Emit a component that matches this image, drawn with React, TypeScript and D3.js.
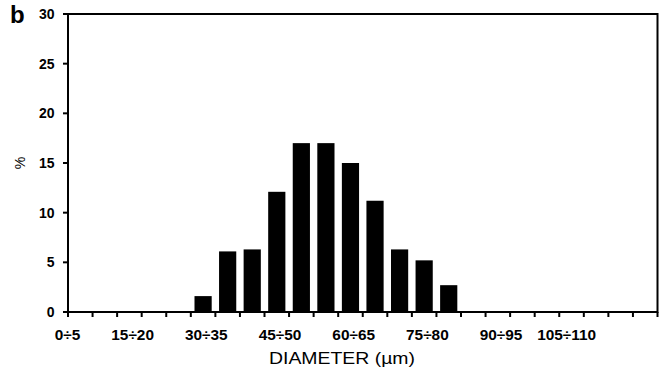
import * as d3 from 'd3';
import React, { useEffect, useRef } from 'react';

// diameter bins (µm), 5 µm wide
const bins = [
  '0÷5', '5÷10', '10÷15', '15÷20', '20÷25', '25÷30', '30÷35', '35÷40',
  '40÷45', '45÷50', '50÷55', '55÷60', '60÷65', '65÷70', '70÷75', '75÷80',
  '80÷85', '85÷90', '90÷95', '95÷100', '100÷105', '105÷110', '110÷115', '115÷120',
];

// percentage per bin
const percent = [
  0, 0, 0, 0, 0, 1.6, 6.1, 6.3,
  12.1, 17.0, 17.0, 15.0, 11.2, 6.3, 5.2, 2.7,
  0, 0, 0, 0, 0, 0, 0, 0,
];

const shownBins = ['0÷5', '15÷20', '30÷35', '45÷50', '60÷65', '75÷80', '90÷95', '105÷110'];
const yTicks = [0, 5, 10, 15, 20, 25, 30];

export default function App() {
  const svgRef = useRef(null);
  const width = 664;
  const height = 374;

  useEffect(() => {
    const svg = d3.select(svgRef.current);
    svg.selectAll('*').remove();

    const margin = { top: 14, right: 6.5, bottom: 62, left: 68 };
    const x0 = margin.left;
    const x1 = width - margin.right;
    const y0 = height - margin.bottom;
    const y1 = margin.top;

    const x = d3.scaleBand().domain(bins).range([x0, x1]).paddingInner(0.3).paddingOuter(0.15);
    const xb = d3.scaleBand().domain(bins).range([x0, x1]);
    const y = d3.scaleLinear().domain([0, 30]).range([y0, y1]);

    const font = 'Liberation Sans, Arial, Helvetica, sans-serif';

    // bars
    svg.append('g')
      .selectAll('rect')
      .data(bins)
      .enter()
      .filter((d, i) => percent[i] > 0)
      .append('rect')
      .attr('x', (d) => x(d))
      .attr('y', (d) => y(percent[bins.indexOf(d)]))
      .attr('width', x.bandwidth())
      .attr('height', (d) => y0 - y(percent[bins.indexOf(d)]))
      .attr('fill', '#000');

    // frame
    svg.append('rect')
      .attr('x', x0)
      .attr('y', y1)
      .attr('width', x1 - x0)
      .attr('height', y0 - y1)
      .attr('fill', 'none')
      .attr('stroke', '#000')
      .attr('stroke-width', 2);

    // x ticks on bin edges
    const edges = bins.map((b) => xb(b)).concat([x1]);
    svg.append('g')
      .selectAll('line')
      .data(edges)
      .enter()
      .append('line')
      .attr('x1', (d) => d)
      .attr('x2', (d) => d)
      .attr('y1', y0)
      .attr('y2', y0 + 5)
      .attr('stroke', '#000')
      .attr('stroke-width', 2);

    // x tick labels, right edge on the bin centre
    svg.append('g')
      .selectAll('text')
      .data(shownBins)
      .enter()
      .append('text')
      .attr('transform', (d) => `translate(${xb(d) + xb.bandwidth() / 2},339.5) scale(1.1,1)`)
      .attr('text-anchor', 'end')
      .attr('font-family', font)
      .attr('font-weight', 'bold')
      .attr('font-size', 14)
      .text((d) => d);

    // y ticks
    const gy = svg.append('g');
    gy.selectAll('line')
      .data(yTicks)
      .enter()
      .append('line')
      .attr('x1', x0 - 5)
      .attr('x2', x0)
      .attr('y1', (d) => y(d))
      .attr('y2', (d) => y(d))
      .attr('stroke', '#000')
      .attr('stroke-width', 2);
    gy.selectAll('text')
      .data(yTicks)
      .enter()
      .append('text')
      .attr('x', 54.5)
      .attr('y', (d) => y(d))
      .attr('dy', '0.36em')
      .attr('text-anchor', 'end')
      .attr('font-family', font)
      .attr('font-weight', 'bold')
      .attr('font-size', 14)
      .text((d) => d);

    // axis titles
    svg.append('text')
      .attr('x', 342)
      .attr('y', 364)
      .attr('text-anchor', 'middle')
      .attr('font-family', font)
      .attr('font-size', 16.5)
      .attr('textLength', 146)
      .attr('lengthAdjust', 'spacingAndGlyphs')
      .text('DIAMETER (µm)');

    svg.append('text')
      .attr('transform', 'translate(24.5,163) rotate(-90)')
      .attr('text-anchor', 'middle')
      .attr('font-family', font)
      .attr('font-size', 14)
      .text('%');

    // panel letter
    svg.append('text')
      .attr('x', 10)
      .attr('y', 22.5)
      .attr('font-family', font)
      .attr('font-weight', 'bold')
      .attr('font-size', 24)
      .text('b');
  }, []);

  return (
    <svg
      ref={svgRef}
      width={width}
      height={height}
      style={{ position: 'absolute', left: 0, top: 0, background: '#fff' }}
    />
  );
}
